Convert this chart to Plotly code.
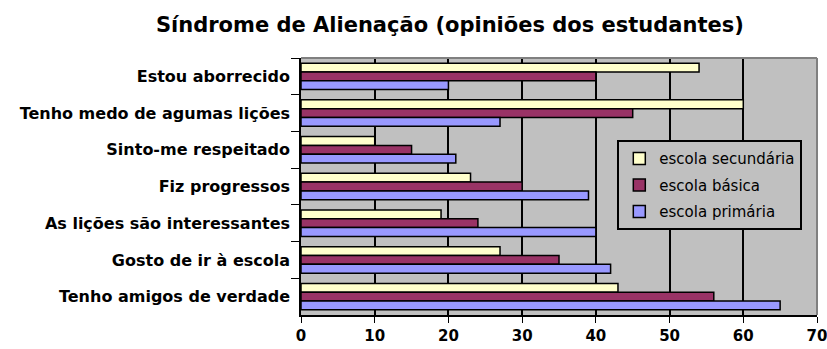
import plotly.graph_objects as go

categories = [
    "Estou aborrecido",
    "Tenho medo de agumas lições",
    "Sinto-me respeitado",
    "Fiz progressos",
    "As lições são interessantes",
    "Gosto de ir à escola",
    "Tenho amigos de verdade",
]
secundaria = [54, 60, 10, 23, 19, 27, 43]
basica = [40, 45, 15, 30, 24, 35, 56]
primaria = [20, 27, 21, 39, 40, 42, 65]

series = [
    ("escola secundária", secundaria, "#FFFFCC"),
    ("escola básica", basica, "#993366"),
    ("escola primária", primaria, "#9999FF"),
]

FONT = "DejaVu Sans, Arial, sans-serif"

fig = go.Figure()
for i, (name, values, color) in enumerate(series):
    fig.add_trace(
        go.Bar(
            x=values,
            y=categories,
            orientation="h",
            name=name,
            legendgroup=f"g{i}",
            marker=dict(color=color, line=dict(color="black", width=1.5)),
        )
    )

fig.update_layout(
    width=827,
    height=349,
    margin=dict(l=301, r=10, t=58, b=34, autoexpand=False),
    paper_bgcolor="white",
    plot_bgcolor="#C0C0C0",
    barmode="group",
    bargap=0.28,
    bargroupgap=0,
    font=dict(family=FONT, color="black"),
    title=dict(
        text="<b>Síndrome de Alienação (opiniões dos estudantes)</b>",
        x=0.544,
        xanchor="center",
        xref="container",
        y=0.928,
        yref="container",
        yanchor="middle",
        automargin=False,
        font=dict(size=21, family=FONT, color="black"),
    ),
    showlegend=True,
    legend=dict(
        x=0.613,
        y=0.68,
        xanchor="left",
        yanchor="top",
        bgcolor="#C0C0C0",
        bordercolor="black",
        borderwidth=2,
        traceorder="grouped",
        tracegroupgap=4,
        itemwidth=30,
        font=dict(size=15, family=FONT, color="black"),
    ),
    xaxis=dict(
        range=[0, 70],
        tickmode="array",
        tickvals=[0, 10, 20, 30, 40, 50, 60, 70],
        automargin=False,
        ticklabeloverflow="allow",
        showgrid=True,
        gridcolor="black",
        gridwidth=1.5,
        showline=True,
        linecolor="black",
        linewidth=1.5,
        ticks="outside",
        ticklen=6,
        tickcolor="black",
        tickfont=dict(size=15, family=FONT, color="black", weight="bold"),
        zeroline=False,
        fixedrange=True,
    ),
    yaxis=dict(
        autorange="reversed",
        automargin=False,
        showline=True,
        linecolor="black",
        linewidth=1.5,
        ticks="outside",
        tickson="boundaries",
        ticklen=8,
        tickcolor="black",
        tickfont=dict(size=16, family=FONT, color="black", weight="bold"),
        ticklabelstandoff=6,
        showgrid=False,
    ),
)

# gray frame on top and right of the plot area
fig.add_shape(type="line", xref="paper", yref="paper", x0=0, x1=1, y0=1, y1=1,
              line=dict(color="#808080", width=2))
fig.add_shape(type="line", xref="paper", yref="paper", x0=1, x1=1, y0=0, y1=1,
              line=dict(color="#808080", width=2))

# drop the default 8px body margin so the figure fills the window exactly
fig.write_html(
    "out.html",
    config={"displayModeBar": False},
    post_script="document.body.style.margin='0';document.body.style.overflow='hidden';",
)
